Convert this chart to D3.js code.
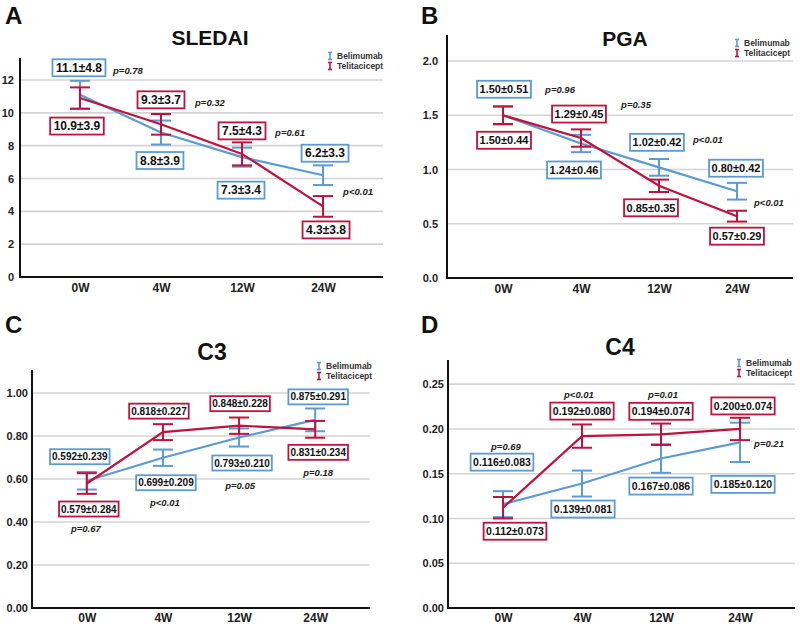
<!DOCTYPE html>
<html>
<head>
<meta charset="utf-8">
<script src="https://cdn.jsdelivr.net/npm/d3@7"></script>
<style>
  body { margin: 0; background: #fff; }
  svg { display: block; font-family: "Liberation Sans", Arial, sans-serif; }
</style>
</head>
<body>
<svg id="chart" width="800" height="628"></svg>
<script>
const weeks = ["0W", "4W", "12W", "24W"];

// SLEDAI
const sledaiBeli = [11.1, 8.8, 7.3, 6.2];
const sledaiBeliErr = [0.85, 0.73, 0.58, 0.6];
const sledaiTeli = [10.9, 9.3, 7.5, 4.3];
const sledaiTeliErr = [0.65, 0.63, 0.7, 0.63];
const sledaiBeliText = ["11.1±4.8", "8.8±3.9", "7.3±3.4", "6.2±3.3"];
const sledaiTeliText = ["10.9±3.9", "9.3±3.7", "7.5±4.3", "4.3±3.8"];
const sledaiP = ["p=0.78", "p=0.32", "p=0.61", "p<0.01"];
const sledaiTicks = [0, 2, 4, 6, 8, 10, 12];

// PGA
const pgaBeli = [1.50, 1.24, 1.02, 0.80];
const pgaBeliErr = [0.085, 0.08, 0.077, 0.077];
const pgaTeli = [1.50, 1.29, 0.85, 0.57];
const pgaTeliErr = [0.08, 0.08, 0.057, 0.05];
const pgaBeliText = ["1.50±0.51", "1.24±0.46", "1.02±0.42", "0.80±0.42"];
const pgaTeliText = ["1.50±0.44", "1.29±0.45", "0.85±0.35", "0.57±0.29"];
const pgaP = ["p=0.96", "p=0.35", "p<0.01", "p<0.01"];
const pgaTicks = [0, 0.5, 1.0, 1.5, 2.0];

// C3
const c3Beli = [0.592, 0.699, 0.793, 0.875];
const c3BeliErr = [0.041, 0.038, 0.042, 0.053];
const c3Teli = [0.579, 0.818, 0.848, 0.831];
const c3TeliErr = [0.048, 0.037, 0.038, 0.039];
const c3BeliText = ["0.592±0.239", "0.699±0.209", "0.793±0.210", "0.875±0.291"];
const c3TeliText = ["0.579±0.284", "0.818±0.227", "0.848±0.228", "0.831±0.234"];
const c3P = ["p=0.67", "p<0.01", "p=0.05", "p=0.18"];
const c3Ticks = [0, 0.2, 0.4, 0.6, 0.8, 1.0];

// C4
const c4Beli = [0.116, 0.139, 0.167, 0.185];
const c4BeliErr = [0.0145, 0.0145, 0.016, 0.022];
const c4Teli = [0.112, 0.192, 0.194, 0.200];
const c4TeliErr = [0.012, 0.013, 0.012, 0.0125];
const c4BeliText = ["0.116±0.083", "0.139±0.081", "0.167±0.086", "0.185±0.120"];
const c4TeliText = ["0.112±0.073", "0.192±0.080", "0.194±0.074", "0.200±0.074"];
const c4P = ["p=0.69", "p<0.01", "p=0.01", "p=0.21"];
const c4Ticks = [0, 0.05, 0.10, 0.15, 0.20, 0.25];

const BLUE = "#5b9bd5";
const RED = "#c0123c";

const svg = d3.select("#chart");
svg.append("rect").attr("width", 800).attr("height", 628).attr("fill", "#fff");

function drawPanel(p) {
  const g = svg.append("g");

  const x = d3.scalePoint().domain(weeks).range([p.left, p.right]).padding(p.pad);
  const y = d3.scaleLinear().domain([0, p.yMax]).range([p.bottom, p.top]);

  // gridlines
  g.selectAll("line.grid")
    .data(p.ticks.filter(t => t > 0))
    .join("line")
    .attr("x1", p.left).attr("x2", p.right)
    .attr("y1", d => y(d)).attr("y2", d => y(d))
    .attr("stroke", "#d4d4d4").attr("stroke-width", 1.6);

  // y axis without tick marks
  const yAxis = d3.axisLeft(y).tickValues(p.ticks).tickFormat(d3.format(p.fmt)).tickSize(0).tickPadding(p.tickPad);
  const ya = g.append("g").attr("transform", `translate(${p.left},0)`).call(yAxis);
  ya.select(".domain").remove();
  ya.selectAll("text").attr("font-size", 11).attr("font-weight", "bold").attr("fill", "#222")
    .attr("font-family", "Liberation Sans, Arial, sans-serif");

  const xAxis = d3.axisBottom(x).tickSize(0).tickPadding(p.xPad);
  const xa = g.append("g").attr("transform", `translate(0,${p.bottom})`).call(xAxis);
  xa.select(".domain").remove();
  xa.selectAll("text").attr("font-size", 12).attr("font-weight", "bold").attr("fill", "#222")
    .attr("font-family", "Liberation Sans, Arial, sans-serif");

  // axis lines
  g.append("path")
    .attr("d", `M${p.left},${p.top}V${p.bottom}H${p.right}`)
    .attr("fill", "none").attr("stroke", "#111").attr("stroke-width", 2);

  const series = [
    { vals: p.beli, err: p.beliErr, color: BLUE },
    { vals: p.teli, err: p.teliErr, color: RED }
  ];

  series.forEach(s => {
    const pts = weeks.map((w, i) => ({ w, v: s.vals[i], e: s.err[i] }));
    g.append("path")
      .datum(pts)
      .attr("fill", "none").attr("stroke", s.color).attr("stroke-width", 2.2)
      .attr("d", d3.line().x(d => x(d.w)).y(d => y(d.v)));

    const eb = g.selectAll(null).data(pts).join("g").attr("stroke", s.color).attr("stroke-width", 2);
    eb.append("line")
      .attr("x1", d => x(d.w)).attr("x2", d => x(d.w))
      .attr("y1", d => y(d.v - d.e)).attr("y2", d => y(d.v + d.e));
    eb.append("line")
      .attr("x1", d => x(d.w) - 10).attr("x2", d => x(d.w) + 10)
      .attr("y1", d => y(d.v + d.e)).attr("y2", d => y(d.v + d.e));
    eb.append("line")
      .attr("x1", d => x(d.w) - 10).attr("x2", d => x(d.w) + 10)
      .attr("y1", d => y(d.v - d.e)).attr("y2", d => y(d.v - d.e));
  });

  // value boxes
  const boxes = [
    { text: p.beliText, vals: p.beli, off: p.beliOff, color: BLUE },
    { text: p.teliText, vals: p.teli, off: p.teliOff, color: RED }
  ];
  boxes.forEach(b => {
    weeks.forEach((w, i) => {
      const cx = x(w) + b.off[i][0];
      const cy = y(b.vals[i]) + b.off[i][1];
      const bg = g.append("g");
      const rect = bg.append("rect");
      const t = bg.append("text")
        .attr("x", cx).attr("y", cy)
        .attr("text-anchor", "middle").attr("dominant-baseline", "central")
        .attr("font-size", p.fs).attr("font-weight", "bold").attr("fill", "#111")
        .text(b.text[i]);
      const tw = t.node().getComputedTextLength();
      rect.attr("x", cx - tw / 2 - p.bpad).attr("y", cy - p.bh / 2)
        .attr("width", tw + 2 * p.bpad).attr("height", p.bh)
        .attr("fill", "#fff").attr("stroke", b.color).attr("stroke-width", 1.8);
    });
  });

  // p values
  g.selectAll(null).data(p.pvals).join("text")
    .attr("x", (d, i) => x(weeks[i]) + p.pPos[i][0])
    .attr("y", (d, i) => p.pPos[i][1])
    .attr("text-anchor", "middle").attr("dominant-baseline", "central")
    .attr("font-size", 9.5).attr("font-weight", "bold").attr("font-style", "italic").attr("fill", "#222")
    .text(d => d);

  // legend
  const lg = g.append("g").attr("transform", `translate(${p.legend[0]},${p.legend[1]})`);
  [["Belimumab", BLUE], ["Telitacicept", RED]].forEach((item, i) => {
    const yy = i * 10;
    const ic = lg.append("g").attr("stroke", item[1]).attr("stroke-width", 1.6);
    ic.append("line").attr("x1", -7).attr("x2", -7).attr("y1", yy - 3.5).attr("y2", yy + 3.5);
    ic.append("line").attr("x1", -9).attr("x2", -5).attr("y1", yy - 3.5).attr("y2", yy - 3.5);
    ic.append("line").attr("x1", -9).attr("x2", -5).attr("y1", yy + 3.5).attr("y2", yy + 3.5);
    lg.append("text").attr("x", 0).attr("y", yy).attr("dominant-baseline", "central")
      .attr("font-size", 8.5).attr("font-weight", "bold").attr("fill", "#333").text(item[0]);
  });

  // title and panel letter
  g.append("text").attr("x", p.title[0]).attr("y", p.title[1])
    .attr("text-anchor", "middle").attr("dominant-baseline", "central")
    .attr("font-size", p.title[2]).attr("font-weight", "bold").attr("fill", "#111").text(p.name);
  g.append("text").attr("x", p.letter[0]).attr("y", p.letter[1])
    .attr("font-size", 24).attr("font-weight", "bold").attr("fill", "#111").text(p.tag);
}

drawPanel({
  name: "SLEDAI", tag: "A", letter: [5, 24], title: [210, 37, 21],
  left: 20, right: 383, top: 58, bottom: 277, yMax: 13.34, pad: 0.74,
  ticks: sledaiTicks, fmt: "d", tickPad: 6, xPad: 6,
  beli: sledaiBeli, beliErr: sledaiBeliErr, teli: sledaiTeli, teliErr: sledaiTeliErr,
  beliText: sledaiBeliText, teliText: sledaiTeliText, pvals: sledaiP,
  fs: 12, bh: 17, bpad: 3.5,
  beliOff: [[-1, -27], [-1, 28], [-1, 33], [2, -22]],
  teliOff: [[-3, 28], [0, -24.5], [0, -23], [3, 23.5]],
  pPos: [[48, 70], [49, 102], [48, 132], [35, 191]],
  legend: [337, 56]
});

drawPanel({
  name: "PGA", tag: "B", letter: [421, 24], title: [625, 38, 21],
  left: 447, right: 793, top: 35, bottom: 278, yMax: 2.24, pad: 0.718,
  ticks: pgaTicks, fmt: ".1f", tickPad: 9, xPad: 6,
  beli: pgaBeli, beliErr: pgaBeliErr, teli: pgaTeli, teliErr: pgaTeliErr,
  beliText: pgaBeliText, teliText: pgaTeliText, pvals: pgaP,
  fs: 11, bh: 17, bpad: 2.5,
  beliOff: [[1, -26], [-7, 26.5], [-2, -25], [-1, -23]],
  teliOff: [[1, 25], [-2, -24], [-8, 22], [0, 20]],
  pPos: [[57, 89], [55, 104], [49, 139], [32, 202]],
  legend: [744, 43]
});

drawPanel({
  name: "C3", tag: "C", letter: [5, 333], title: [212, 352, 23],
  left: 32, right: 370, top: 370, bottom: 608, yMax: 1.107, pad: 0.72,
  ticks: c3Ticks, fmt: ".2f", tickPad: 4, xPad: 5,
  beli: c3Beli, beliErr: c3BeliErr, teli: c3Teli, teliErr: c3TeliErr,
  beliText: c3BeliText, teliText: c3TeliText, pvals: c3P,
  fs: 10, bh: 15, bpad: 2,
  beliOff: [[-7, -24], [3, 25], [3, 25.5], [3, -23]],
  teliOff: [[2, 25.5], [-4, -21], [1, -22], [3, 23]],
  pPos: [[-1, 528], [2, 502], [1, 485], [3, 472]],
  legend: [326, 366]
});

drawPanel({
  name: "C4", tag: "D", letter: [421, 333], title: [620, 347, 23],
  left: 448, right: 795, top: 360, bottom: 608, yMax: 0.277, pad: 0.696,
  ticks: c4Ticks, fmt: ".2f", tickPad: 4, xPad: 5,
  beli: c4Beli, beliErr: c4BeliErr, teli: c4Teli, teliErr: c4TeliErr,
  beliText: c4BeliText, teliText: c4TeliText, pvals: c4P,
  fs: 10.5, bh: 17, bpad: 2.5,
  beliOff: [[-1, -42], [1, 25.5], [0, 27.6], [3, 42]],
  teliOff: [[12, 23.5], [0, -25], [0, -23], [3, -23]],
  pPos: [[3, 446], [-3, 394], [2, 394], [29, 443]],
  legend: [746, 363]
});
</script>
</body>
</html>
